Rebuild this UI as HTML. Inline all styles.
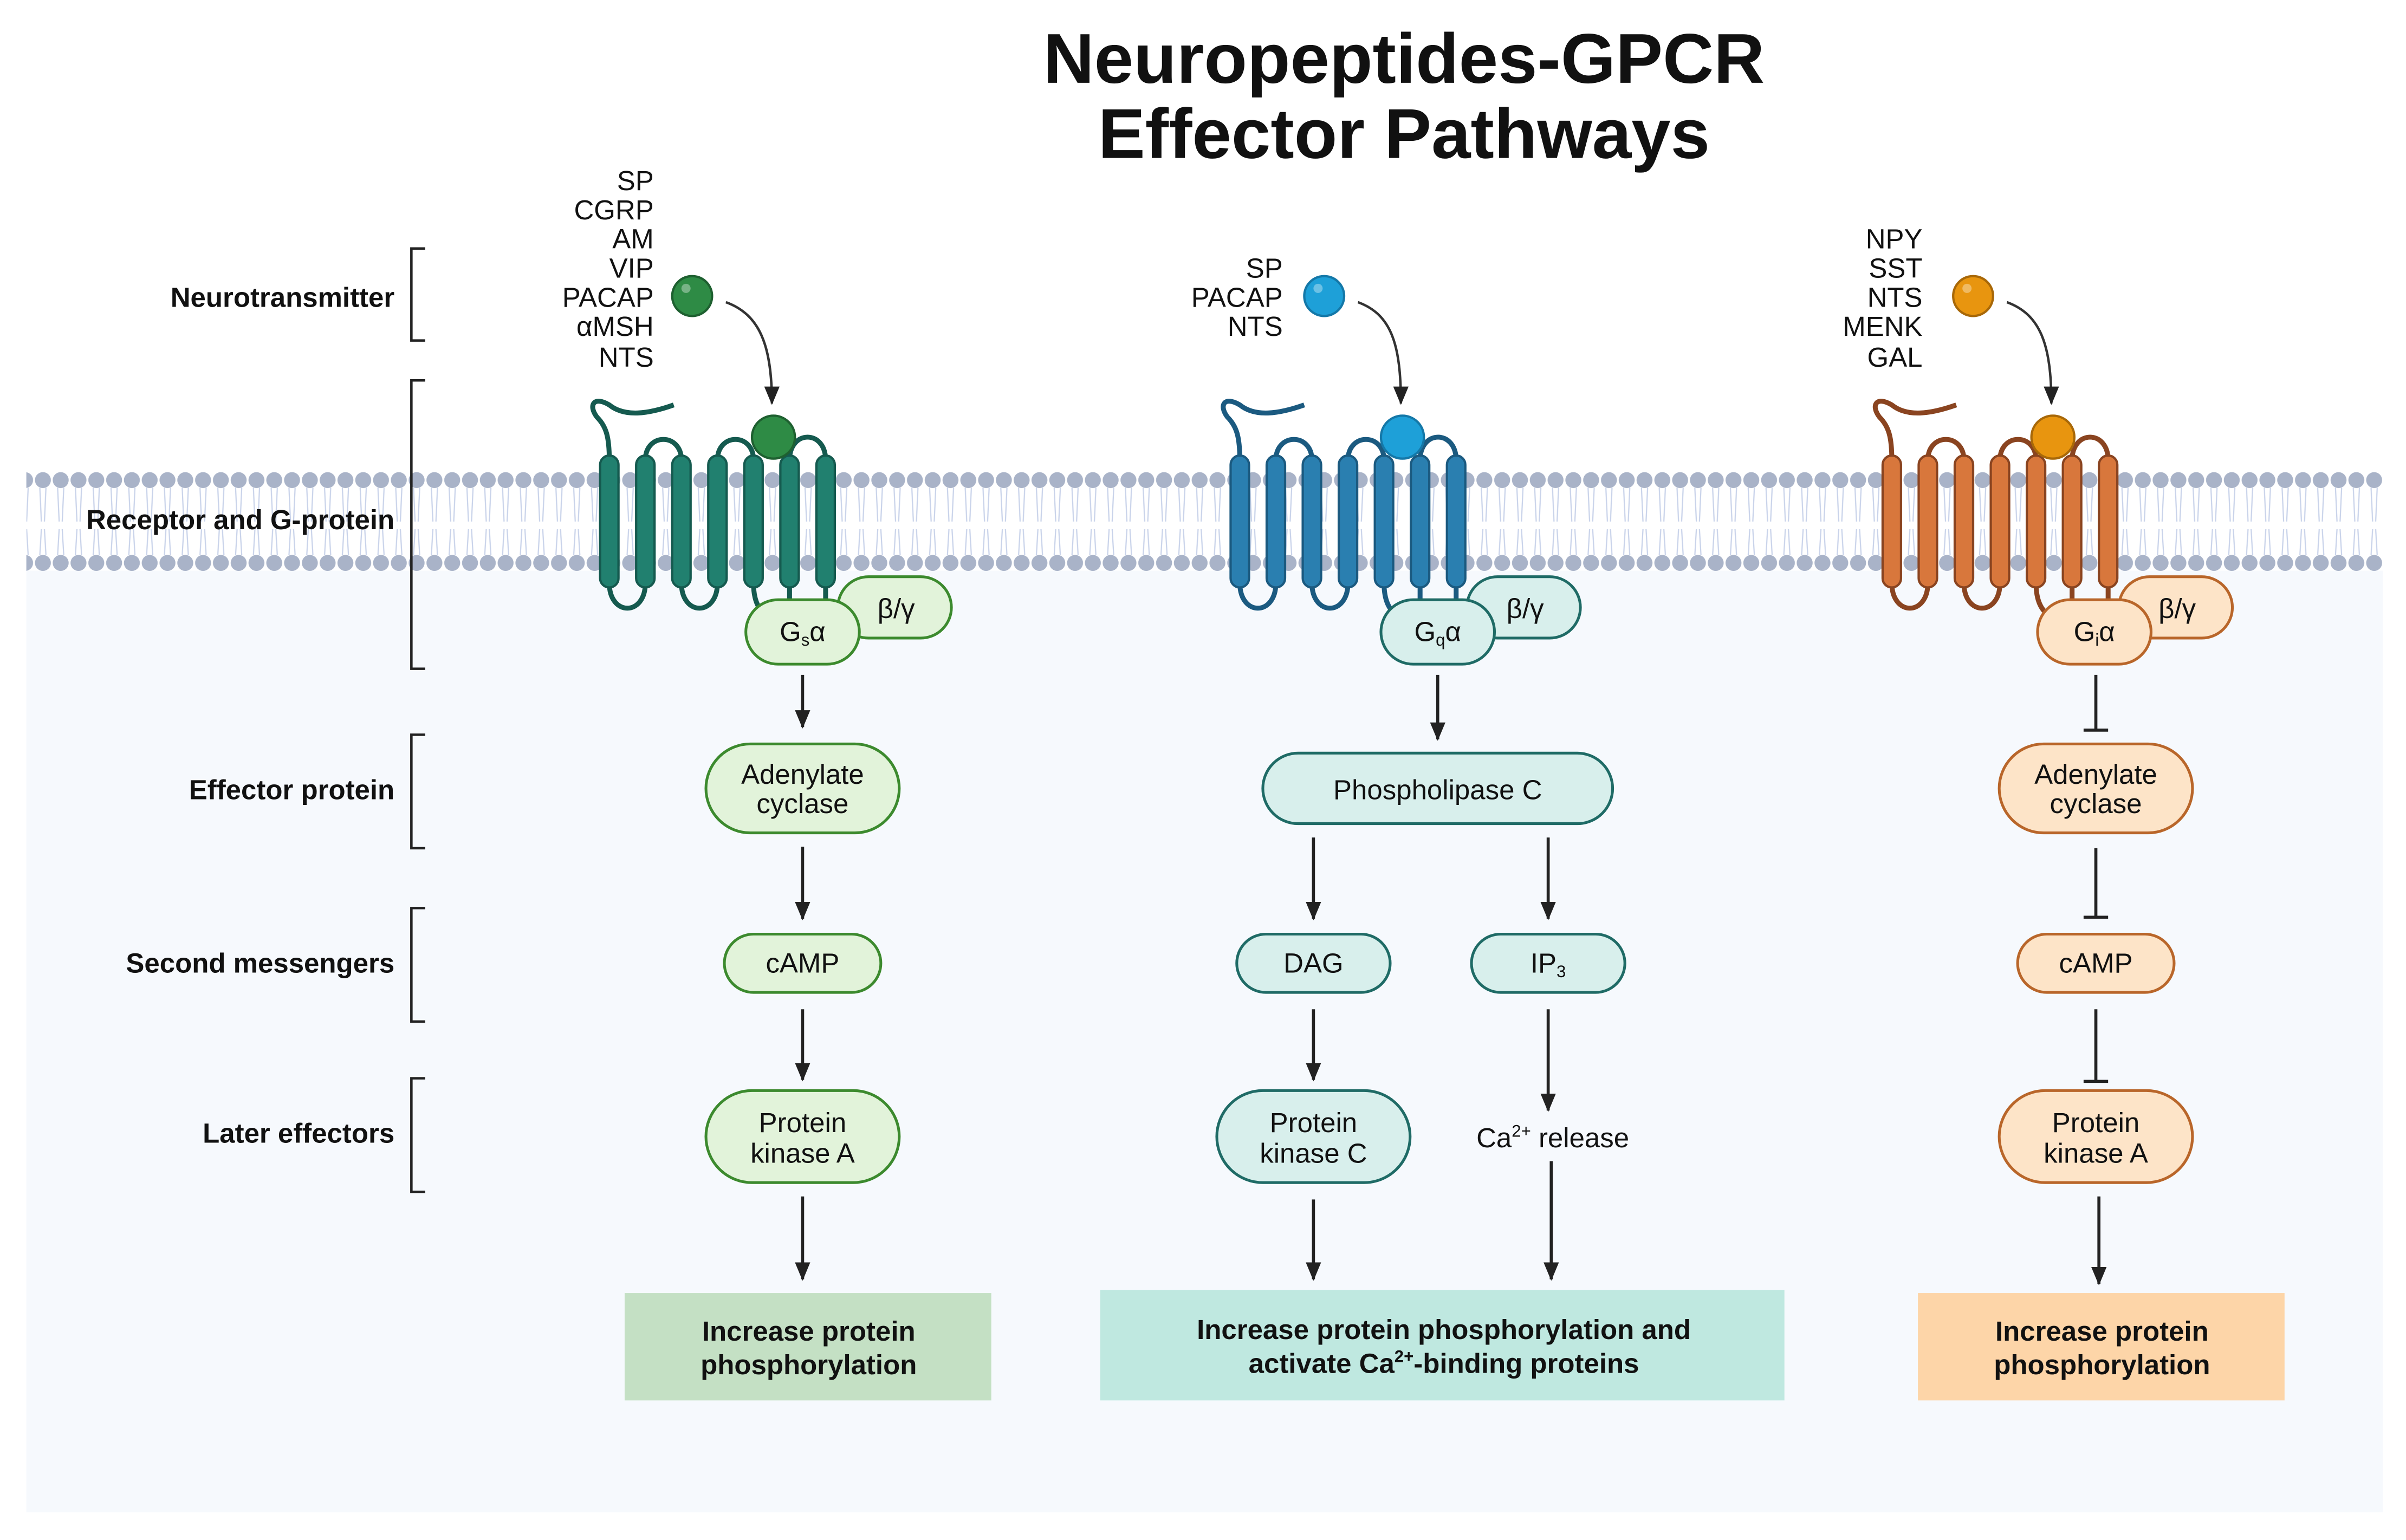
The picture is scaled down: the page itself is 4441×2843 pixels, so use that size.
<!DOCTYPE html>
<html><head><meta charset="utf-8"><style>
html,body{margin:0;padding:0;background:#fff}
svg{display:block}
text{font-family:"Liberation Sans",sans-serif}
</style></head><body>
<svg width="4441" height="2843" viewBox="0 0 1568 1004" xmlns="http://www.w3.org/2000/svg">
<defs>
<pattern id="mem" x="22" y="0" width="11.6" height="1004" patternUnits="userSpaceOnUse">
<path d="M3.8 318 L4.8 340 M7.8 318 L6.8 340 M4.8 345 L3.8 362 M6.8 345 L7.8 362" stroke="#c9d3ea" stroke-width="0.8" fill="none"/>
<circle cx="5.8" cy="313" r="5.2" fill="#a9b3c8"/>
<circle cx="5.8" cy="367" r="5.2" fill="#a9b3c8"/>
</pattern>
<marker id="ah" markerWidth="12" markerHeight="10" refX="11" refY="5" orient="auto" markerUnits="userSpaceOnUse" viewBox="0 0 12 10">
<path d="M0 0 L12 5 L0 10 Z" fill="#222"/>
</marker>
<g id="rec">
<path d="M0 300 C0 285 -2 278 -8 272 C-14 264 -10 258 0 264 C10 272 25 270 42 264" fill="none" stroke-width="3.2"/>
<path d="M23.5 300 C23.5 282 47 282 47 300 M70.5 300 C70.5 282 94 282 94 300 M117.5 300 C117.5 280 141 280 141 300" fill="none" stroke-width="3.2"/>
<path d="M0 380 C0 402 23.5 402 23.5 380 M47 380 C47 402 70.5 402 70.5 380 M94 380 C94 395 100 400 104 402 M117.5 380 L117.5 396 M141 380 L141 394" fill="none" stroke-width="3.2"/>
<rect x="-6" y="297" width="12" height="86" rx="6" stroke-width="1.5"/>
<rect x="17.5" y="297" width="12" height="86" rx="6" stroke-width="1.5"/>
<rect x="41" y="297" width="12" height="86" rx="6" stroke-width="1.5"/>
<rect x="64.5" y="297" width="12" height="86" rx="6" stroke-width="1.5"/>
<rect x="88" y="297" width="12" height="86" rx="6" stroke-width="1.5"/>
<rect x="111.5" y="297" width="12" height="86" rx="6" stroke-width="1.5"/>
<rect x="135" y="297" width="12" height="86" rx="6" stroke-width="1.5"/>
</g>
</defs>

<rect x="17" y="372" width="1536" height="614" fill="#f6f9fd"/>
<rect x="17" y="300" width="1536" height="80" fill="url(#mem)"/>

<text x="915" y="54" font-size="46" font-weight="bold" text-anchor="middle" fill="#111">Neuropeptides-GPCR</text>
<text x="915" y="103" font-size="46" font-weight="bold" text-anchor="middle" fill="#111">Effector Pathways</text>

<g font-size="18" font-weight="bold" text-anchor="end" fill="#111">
<text x="257" y="200">Neurotransmitter</text>
<text x="257" y="345">Receptor and G-protein</text>
<text x="257" y="521">Effector protein</text>
<text x="257" y="634">Second messengers</text>
<text x="257" y="745">Later effectors</text>
</g>
<g fill="none" stroke="#222" stroke-width="1.6">
<path d="M277 162 H268 V222 H277"/>
<path d="M277 248 H268 V436 H277"/>
<path d="M277 479 H268 V553 H277"/>
<path d="M277 592 H268 V666 H277"/>
<path d="M277 703 H268 V777 H277"/>
</g>

<g font-size="18" text-anchor="end" fill="#111">
<text x="426" y="124">SP</text><text x="426" y="143">CGRP</text><text x="426" y="162">AM</text><text x="426" y="181">VIP</text><text x="426" y="200">PACAP</text><text x="426" y="219">αMSH</text><text x="426" y="239">NTS</text>
<text x="836" y="181">SP</text><text x="836" y="200">PACAP</text><text x="836" y="219">NTS</text>
<text x="1253" y="162">NPY</text><text x="1253" y="181">SST</text><text x="1253" y="200">NTS</text><text x="1253" y="219">MENK</text><text x="1253" y="239">GAL</text>
</g>
<circle cx="451" cy="193" r="13" fill="#2e8b45" stroke="#1e6030" stroke-width="1.5"/>
<circle cx="863" cy="193" r="13" fill="#1ea0d8" stroke="#1478a8" stroke-width="1.5"/>
<circle cx="1286" cy="193" r="13" fill="#e8950f" stroke="#a86808" stroke-width="1.5"/>
<g fill="#fff" opacity="0.35"><circle cx="447" cy="188" r="3"/><circle cx="859" cy="188" r="3"/><circle cx="1282" cy="188" r="3"/></g>
<g fill="none" stroke="#333" stroke-width="1.6">
<path d="M473 197 C495 205 503 225 503 263" marker-end="url(#ah)"/>
<path d="M885 197 C907 205 913 225 913 263" marker-end="url(#ah)"/>
<path d="M1308 197 C1330 205 1337 225 1337 263" marker-end="url(#ah)"/>
</g>

<use href="#rec" x="397" y="0" fill="#21806f" stroke="#155a4f"/>
<use href="#rec" x="808" y="0" fill="#2a7fb0" stroke="#1b5a80"/>
<use href="#rec" x="1233" y="0" fill="#d8773c" stroke="#8a4420"/>
<circle cx="504" cy="285" r="14" fill="#2e8b45" stroke="#1e6030" stroke-width="1.5"/>
<circle cx="914" cy="285" r="14" fill="#1ea0d8" stroke="#1478a8" stroke-width="1.5"/>
<circle cx="1338" cy="285" r="14" fill="#e8950f" stroke="#a86808" stroke-width="1.5"/>

<g stroke-width="1.8" font-size="18" text-anchor="middle" fill="#111">
<rect x="546" y="376" width="74" height="40" rx="20" fill="#e2f3da" stroke="#3c8a2e"/>
<rect x="486" y="391" width="74" height="42" rx="21" fill="#e2f3da" stroke="#3c8a2e"/>
<rect x="956" y="376" width="74" height="40" rx="20" fill="#d8efec" stroke="#1f6b66"/>
<rect x="900" y="391" width="74" height="42" rx="21" fill="#d8efec" stroke="#1f6b66"/>
<rect x="1381" y="376" width="74" height="40" rx="20" fill="#fde4c8" stroke="#b9662a"/>
<rect x="1328" y="391" width="74" height="42" rx="21" fill="#fde4c8" stroke="#b9662a"/>
</g>
<g font-size="18" text-anchor="middle" fill="#111">
<text x="584" y="403">β/γ</text>
<text x="994" y="403">β/γ</text>
<text x="1419" y="403">β/γ</text>
<text x="523" y="418">G<tspan font-size="11" dy="3">s</tspan><tspan dy="-3">α</tspan></text>
<text x="937" y="418">G<tspan font-size="11" dy="3">q</tspan><tspan dy="-3">α</tspan></text>
<text x="1365" y="418">G<tspan font-size="11" dy="3">i</tspan><tspan dy="-3">α</tspan></text>
</g>

<g stroke-width="1.8">
<rect x="460" y="485" width="126" height="58" rx="29" fill="#e2f3da" stroke="#3c8a2e"/>
<rect x="472" y="609" width="102" height="38" rx="19" fill="#e2f3da" stroke="#3c8a2e"/>
<rect x="460" y="711" width="126" height="60" rx="30" fill="#e2f3da" stroke="#3c8a2e"/>
<rect x="823" y="491" width="228" height="46" rx="23" fill="#d8efec" stroke="#1f6b66"/>
<rect x="806" y="609" width="100" height="38" rx="19" fill="#d8efec" stroke="#1f6b66"/>
<rect x="959" y="609" width="100" height="38" rx="19" fill="#d8efec" stroke="#1f6b66"/>
<rect x="793" y="711" width="126" height="60" rx="30" fill="#d8efec" stroke="#1f6b66"/>
<rect x="1303" y="485" width="126" height="58" rx="29" fill="#fde4c8" stroke="#b9662a"/>
<rect x="1315" y="609" width="102" height="38" rx="19" fill="#fde4c8" stroke="#b9662a"/>
<rect x="1303" y="711" width="126" height="60" rx="30" fill="#fde4c8" stroke="#b9662a"/>
</g>
<g font-size="18" text-anchor="middle" fill="#111">
<text x="523" y="511">Adenylate</text><text x="523" y="530">cyclase</text>
<text x="523" y="634">cAMP</text>
<text x="523" y="738">Protein</text><text x="523" y="758">kinase A</text>
<text x="937" y="521">Phospholipase C</text>
<text x="856" y="634">DAG</text>
<text x="1009" y="634">IP<tspan font-size="11" dy="3">3</tspan></text>
<text x="856" y="738">Protein</text><text x="856" y="758">kinase C</text>
<text x="1012" y="748">Ca<tspan font-size="11" dy="-7">2+</tspan><tspan dy="7"> release</tspan></text>
<text x="1366" y="511">Adenylate</text><text x="1366" y="530">cyclase</text>
<text x="1366" y="634">cAMP</text>
<text x="1366" y="738">Protein</text><text x="1366" y="758">kinase A</text>
</g>

<g stroke="#222" stroke-width="2" fill="none">
<path d="M523 440 V474" marker-end="url(#ah)"/>
<path d="M523 552 V599" marker-end="url(#ah)"/>
<path d="M523 658 V704" marker-end="url(#ah)"/>
<path d="M523 780 V834" marker-end="url(#ah)"/>
<path d="M937 440 V482" marker-end="url(#ah)"/>
<path d="M856 546 V599" marker-end="url(#ah)"/>
<path d="M1009 546 V599" marker-end="url(#ah)"/>
<path d="M856 658 V704" marker-end="url(#ah)"/>
<path d="M1009 658 V724" marker-end="url(#ah)"/>
<path d="M856 782 V834" marker-end="url(#ah)"/>
<path d="M1011 757 V834" marker-end="url(#ah)"/>
<path d="M1366 440 V475 M1358 476 H1374"/>
<path d="M1366 553 V597 M1358 598 H1374"/>
<path d="M1366 658 V704 M1358 705 H1374"/>
<path d="M1368 780 V837" marker-end="url(#ah)"/>
</g>

<rect x="407" y="843" width="239" height="70" fill="#c4e0c4"/>
<rect x="717" y="841" width="446" height="72" fill="#bfe8e0"/>
<rect x="1250" y="843" width="239" height="70" fill="#fdd5a8"/>
<g font-size="18" font-weight="bold" text-anchor="middle" fill="#111">
<text x="527" y="874">Increase protein</text><text x="527" y="896">phosphorylation</text>
<text x="941" y="873">Increase protein phosphorylation and</text>
<text x="941" y="895">activate Ca<tspan font-size="11" dy="-7">2+</tspan><tspan dy="7">-binding proteins</tspan></text>
<text x="1370" y="874">Increase protein</text><text x="1370" y="896">phosphorylation</text>
</g>
</svg>
</body></html>
